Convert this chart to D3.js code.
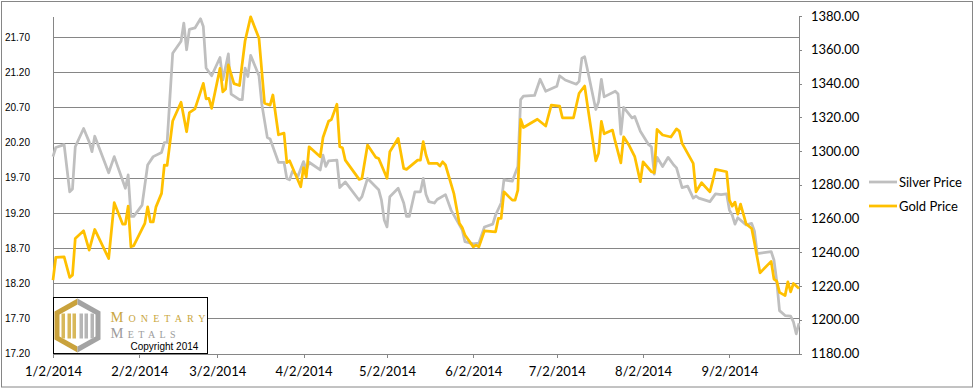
<!DOCTYPE html>
<html>
<head>
<meta charset="utf-8">
<script src="https://cdn.jsdelivr.net/npm/d3@7"></script>
<style>
  body { margin: 0; background: #fff; }
</style>
</head>
<body>
<div id="chart"></div>
<script>
// silver price, left axis
var silverDates = ["1/2/2014","1/3/2014","1/6/2014","1/8/2014","1/9/2014","1/10/2014","1/13/2014","1/15/2014","1/16/2014","1/17/2014",
  "1/22/2014","1/24/2014","1/28/2014","1/29/2014","1/30/2014","1/31/2014","2/3/2014","2/5/2014","2/7/2014","2/10/2014",
  "2/11/2014","2/12/2014","2/14/2014","2/17/2014","2/18/2014","2/19/2014","2/20/2014","2/22/2014","2/24/2014","2/25/2014",
  "2/26/2014","2/28/2014","3/3/2014","3/4/2014","3/6/2014","3/7/2014","3/10/2014","3/11/2014","3/12/2014","3/13/2014",
  "3/14/2014","3/17/2014","3/18/2014","3/20/2014","3/21/2014","3/24/2014","3/26/2014","3/27/2014","3/28/2014","3/29/2014",
  "3/31/2014","4/2/2014","4/3/2014","4/4/2014","4/8/2014","4/9/2014","4/10/2014","4/11/2014","4/14/2014","4/15/2014",
  "4/17/2014","4/22/2014","4/23/2014","4/25/2014","4/29/2014","4/30/2014","5/1/2014","5/2/2014","5/3/2014","5/6/2014",
  "5/8/2014","5/9/2014","5/10/2014","5/12/2014","5/14/2014","5/15/2014","5/16/2014","5/17/2014","5/19/2014","5/20/2014",
  "5/23/2014","5/25/2014","5/28/2014","5/29/2014","5/30/2014","6/2/2014","6/4/2014","6/6/2014","6/9/2014","6/10/2014",
  "6/12/2014","6/13/2014","6/16/2014","6/18/2014","6/19/2014","6/20/2014","6/24/2014","6/26/2014","6/28/2014","7/2/2014",
  "7/3/2014","7/5/2014","7/9/2014","7/10/2014","7/11/2014","7/12/2014","7/13/2014","7/16/2014","7/17/2014","7/18/2014",
  "7/19/2014","7/23/2014","7/24/2014","7/25/2014","7/26/2014","7/29/2014","7/30/2014","8/1/2014","8/4/2014","8/5/2014",
  "8/6/2014","8/7/2014","8/9/2014","8/11/2014","8/13/2014","8/14/2014","8/16/2014","8/18/2014","8/20/2014","8/21/2014",
  "8/22/2014","8/26/2014","8/28/2014","8/30/2014","9/1/2014","9/2/2014","9/3/2014","9/4/2014","9/5/2014","9/8/2014",
  "9/10/2014","9/11/2014","9/12/2014","9/17/2014","9/18/2014","9/19/2014","9/20/2014","9/22/2014","9/24/2014","9/25/2014",
  "9/26/2014","9/27/2014"];
var silverPrices = [20.00,20.13,20.17,19.50,19.54,20.14,20.40,20.21,20.07,20.29,
  19.77,20.00,19.55,19.74,19.15,19.15,19.31,19.88,20.00,20.06,
  20.20,20.20,21.47,21.64,21.90,21.52,21.81,21.83,21.96,21.85,
  21.26,21.15,21.41,21.09,21.46,20.89,20.81,20.81,21.26,21.14,
  21.44,21.15,20.75,20.27,20.25,19.92,19.92,19.69,19.67,19.79,
  19.72,19.93,19.81,19.92,19.81,20.02,19.86,19.94,19.95,19.56,
  19.64,19.38,19.43,19.69,19.53,19.38,19.10,19.00,19.43,19.55,
  19.34,19.15,19.15,19.50,19.50,19.69,19.46,19.36,19.34,19.39,
  19.46,19.24,19.03,18.96,18.79,18.76,18.77,19.00,19.04,19.17,
  19.34,19.67,19.65,19.86,20.81,20.86,20.87,21.10,20.93,21.00,
  21.15,21.09,21.03,21.07,21.40,21.42,21.24,20.67,20.78,21.10,
  20.85,20.93,20.89,20.32,20.70,20.55,20.57,20.36,20.17,20.14,
  19.75,19.99,19.86,19.99,19.88,19.84,19.56,19.58,19.41,19.44,
  19.41,19.36,19.47,19.46,19.47,19.24,19.17,19.04,19.13,19.03,
  19.05,18.94,18.62,18.65,18.53,18.23,17.81,17.74,17.73,17.65,
  17.48,17.63];

// gold price, right axis
var goldDates = ["1/2/2014","1/3/2014","1/6/2014","1/8/2014","1/9/2014","1/10/2014","1/13/2014","1/15/2014","1/17/2014","1/22/2014",
  "1/24/2014","1/27/2014","1/28/2014","1/29/2014","1/30/2014","1/31/2014","2/4/2014","2/5/2014","2/6/2014","2/7/2014",
  "2/8/2014","2/10/2014","2/11/2014","2/12/2014","2/14/2014","2/17/2014","2/19/2014","2/20/2014","2/22/2014","2/25/2014",
  "2/26/2014","2/27/2014","2/28/2014","3/3/2014","3/4/2014","3/5/2014","3/6/2014","3/8/2014","3/10/2014","3/12/2014",
  "3/14/2014","3/17/2014","3/19/2014","3/21/2014","3/22/2014","3/24/2014","3/26/2014","3/27/2014","3/28/2014","4/1/2014",
  "4/2/2014","4/3/2014","4/4/2014","4/8/2014","4/9/2014","4/11/2014","4/12/2014","4/14/2014","4/15/2014","4/16/2014",
  "4/17/2014","4/22/2014","4/23/2014","4/25/2014","4/28/2014","4/29/2014","5/2/2014","5/3/2014","5/6/2014","5/8/2014",
  "5/9/2014","5/13/2014","5/14/2014","5/15/2014","5/16/2014","5/17/2014","5/20/2014","5/21/2014","5/22/2014","5/23/2014",
  "5/26/2014","5/28/2014","5/29/2014","5/30/2014","6/2/2014","6/3/2014","6/4/2014","6/6/2014","6/10/2014","6/11/2014",
  "6/12/2014","6/13/2014","6/16/2014","6/17/2014","6/18/2014","6/19/2014","6/20/2014","6/25/2014","6/28/2014","6/30/2014",
  "7/3/2014","7/4/2014","7/8/2014","7/10/2014","7/12/2014","7/13/2014","7/16/2014","7/17/2014","7/18/2014","7/19/2014",
  "7/22/2014","7/23/2014","7/25/2014","7/26/2014","7/28/2014","7/30/2014","8/1/2014","8/2/2014","8/5/2014","8/6/2014",
  "8/7/2014","8/9/2014","8/12/2014","8/14/2014","8/15/2014","8/16/2014","8/20/2014","8/21/2014","8/23/2014","8/26/2014",
  "8/27/2014","8/28/2014","9/1/2014","9/2/2014","9/3/2014","9/4/2014","9/5/2014","9/6/2014","9/8/2014","9/10/2014",
  "9/11/2014","9/13/2014","9/17/2014","9/18/2014","9/19/2014","9/20/2014","9/22/2014","9/23/2014","9/24/2014","9/25/2014",
  "9/27/2014"];
var goldPrices = [1223.5,1236.9,1237.3,1225.1,1226.4,1248.2,1252.7,1241.3,1253.5,1236.3,
  1269.4,1256.7,1256.7,1267.3,1243.2,1243.9,1257.1,1266.9,1258.0,1258.0,
  1266.9,1274.9,1291.7,1291.5,1317.8,1328.9,1311.4,1322.8,1325.0,1340.1,
  1330.9,1331.2,1325.3,1349.0,1335.1,1336.7,1351.0,1339.9,1338.8,1365.2,
  1379.5,1366.8,1328.3,1327.2,1333.2,1309.6,1310.6,1293.1,1294.2,1278.8,
  1290.2,1284.7,1302.5,1296.6,1308.0,1317.6,1318.6,1327.7,1302.5,1301.9,
  1294.6,1283.2,1283.8,1303.5,1296.2,1295.6,1283.8,1299.5,1307.5,1289.7,
  1289.1,1294.6,1294.6,1305.5,1297.6,1292.7,1292.7,1291.1,1293.6,1291.7,
  1274.9,1257.1,1254.7,1250.2,1243.2,1244.2,1243.2,1252.7,1252.1,1260.1,
  1260.1,1275.8,1270.9,1270.9,1276.8,1318.8,1313.9,1318.8,1314.8,1327.2,
  1326.6,1319.7,1319.7,1334.2,1338.5,1327.2,1294.2,1298.6,1317.6,1310.2,
  1312.4,1305.5,1293.0,1308.4,1303.2,1296.6,1281.8,1293.6,1287.7,1287.2,
  1312.8,1309.5,1308.3,1313.1,1311.8,1304.5,1292.7,1275.8,1281.2,1275.8,
  1282.2,1289.1,1287.7,1270.9,1267.3,1269.7,1262.6,1268.5,1256.8,1254.1,
  1245.7,1227.8,1234.6,1224.1,1222.9,1216.2,1214.3,1222.5,1216.5,1221.5,
  1218.5];

var silverTicks = [17.2, 17.7, 18.2, 18.7, 19.2, 19.7, 20.2, 20.7, 21.2, 21.7];
var goldTicks = [1180, 1200, 1220, 1240, 1260, 1280, 1300, 1320, 1340, 1360, 1380];
var dateTicks = ["1/2/2014","2/2/2014","3/2/2014","4/2/2014","5/2/2014","6/2/2014","7/2/2014","8/2/2014","9/2/2014"];
var seriesNames = ["Silver Price", "Gold Price"];
var seriesColors = ["#bfbfbf", "#ffc000"];

var svgWidth = 974;
var svgHeight = 389;

var margin = { top: 16, right: 175, bottom: 35.5, left: 53 };
var width = svgWidth - margin.left - margin.right;
var height = svgHeight - margin.top - margin.bottom;

var parseDate = d3.timeParse("%m/%d/%Y");
var fmtDate = d => (d.getMonth() + 1) + "/" + d.getDate() + "/" + d.getFullYear();

var svg = d3.select("#chart")
  .append("svg")
  .attr("width", svgWidth)
  .attr("height", svgHeight)
  .style("display", "block");

// chart frame
svg.append("rect")
  .attr("x", 1.5).attr("y", 1.5)
  .attr("width", svgWidth - 3).attr("height", svgHeight - 3.5)
  .attr("fill", "#fff")
  .attr("stroke", "#868686");

var chartGroup = svg.append("g")
  .attr("transform", `translate(${margin.left}, ${margin.top})`);

var xScale = d3.scaleTime()
  .domain([parseDate("1/2/2014"), parseDate("9/27/2014")])
  .range([0, width]);

var yLeft = d3.scaleLinear().domain([17.2, 22.0]).range([height, 0]);
var yRight = d3.scaleLinear().domain([1180, 1380]).range([height, 0]);

// gridlines from the silver axis
var grid = chartGroup.append("g")
  .call(d3.axisLeft(yLeft).tickValues(silverTicks.slice(1)).tickSize(-width).tickFormat(""));
grid.select(".domain").remove();
grid.selectAll("line").attr("stroke", "#868686").attr("shape-rendering", "crispEdges");

// left axis
var leftAxis = chartGroup.append("g")
  .call(d3.axisLeft(yLeft).tickValues(silverTicks).tickSize(0).tickPadding(23).tickFormat(d3.format(".2f")));
leftAxis.select(".domain").attr("stroke", "#868686").attr("shape-rendering", "crispEdges");
leftAxis.selectAll("text")
  .attr("font-family", "Liberation Sans, Arial, sans-serif")
  .attr("font-size", "10px")
  .attr("fill", "#000");

// right axis
var rightAxis = chartGroup.append("g")
  .attr("transform", `translate(${width}, 0)`)
  .call(d3.axisRight(yRight).tickValues(goldTicks).tickSizeInner(3).tickSizeOuter(0).tickPadding(9).tickFormat(d3.format(".2f")));
rightAxis.select(".domain").attr("stroke", "#868686").attr("shape-rendering", "crispEdges");
rightAxis.selectAll("line").attr("stroke", "#868686").attr("shape-rendering", "crispEdges");
rightAxis.selectAll("text")
  .attr("font-family", "Lato, sans-serif")
  .attr("font-size", "13px")
  .attr("fill", "#000");

// bottom axis
var bottomAxis = chartGroup.append("g")
  .attr("transform", `translate(0, ${height})`)
  .call(d3.axisBottom(xScale).tickValues(dateTicks.map(parseDate)).tickSizeInner(4).tickSizeOuter(0).tickPadding(9).tickFormat(fmtDate));
bottomAxis.select(".domain").attr("stroke", "#868686").attr("shape-rendering", "crispEdges");
bottomAxis.selectAll("line").attr("stroke", "#868686").attr("shape-rendering", "crispEdges");
bottomAxis.selectAll("text")
  .attr("font-family", "Lato, sans-serif")
  .attr("font-size", "13px")
  .attr("fill", "#000");

// lines
var silverData = silverDates.map((d, i) => ({ date: parseDate(d), value: silverPrices[i] }));
var goldData = goldDates.map((d, i) => ({ date: parseDate(d), value: goldPrices[i] }));

var silverLine = d3.line().x(d => xScale(d.date)).y(d => yLeft(d.value));
var goldLine = d3.line().x(d => xScale(d.date)).y(d => yRight(d.value));

chartGroup.append("path")
  .datum(silverData)
  .attr("d", silverLine)
  .attr("fill", "none")
  .attr("stroke", seriesColors[0])
  .attr("stroke-width", 2.75)
  .attr("stroke-linejoin", "round");

chartGroup.append("path")
  .datum(goldData)
  .attr("d", goldLine)
  .attr("fill", "none")
  .attr("stroke", seriesColors[1])
  .attr("stroke-width", 2.75)
  .attr("stroke-linejoin", "round");

// legend
var legend = svg.append("g").attr("transform", "translate(869, 182)");
seriesNames.forEach(function(name, i) {
  var row = legend.append("g").attr("transform", `translate(0, ${i * 24})`);
  row.append("line")
    .attr("x1", 0).attr("x2", 28)
    .attr("stroke", seriesColors[i])
    .attr("stroke-width", 2.75);
  row.append("text")
    .attr("x", 30)
    .attr("dy", "0.35em")
    .attr("font-family", "Lato, sans-serif")
    .attr("font-size", "13px")
    .attr("fill", "#000")
    .text(name);
});

// logo box
var logo = svg.append("g").attr("transform", "translate(53.5, 297.5)");
logo.append("rect")
  .attr("width", 154).attr("height", 56)
  .attr("fill", "#fff")
  .attr("stroke", "#000");

var hx = 24;
logo.append("polygon")
  .attr("points", [[hx, 1], [1, 14], [1, 42], [hx, 55]].join(" "))
  .attr("fill", "#c9a23c");
logo.append("polygon")
  .attr("points", [[hx, 1], [47, 14], [47, 42], [hx, 55]].join(" "))
  .attr("fill", "#a3a3a3");
logo.append("polygon")
  .attr("points", [[hx, 7], [6, 17], [6, 39], [hx, 49], [42, 39], [42, 17]].join(" "))
  .attr("fill", "#fff");
[[8, "#d8b85a"], [14, "#d8b85a"], [19, "#d8b85a"], [26, "#b5b5b5"], [31, "#b5b5b5"], [37, "#b5b5b5"]].forEach(function(b) {
  logo.append("rect")
    .attr("x", b[0]).attr("y", 16)
    .attr("width", 3.5).attr("height", 25)
    .attr("fill", b[1]);
});

logo.append("text")
  .attr("x", 57).attr("y", 24)
  .attr("font-family", "Liberation Serif, serif")
  .attr("font-size", "14.5px")
  .attr("font-variant", "small-caps")
  .attr("textLength", 95)
  .attr("lengthAdjust", "spacing")
  .attr("fill", "#c9a640")
  .text("Monetary");
logo.append("text")
  .attr("x", 57).attr("y", 40)
  .attr("font-family", "Liberation Serif, serif")
  .attr("font-size", "14.5px")
  .attr("font-variant", "small-caps")
  .attr("textLength", 65)
  .attr("lengthAdjust", "spacing")
  .attr("fill", "#9c9c9c")
  .text("Metals");
logo.append("text")
  .attr("x", 77).attr("y", 52.5)
  .attr("font-family", "Liberation Sans, Arial, sans-serif")
  .attr("font-size", "10px")
  .attr("fill", "#000")
  .text("Copyright 2014");
</script>
</body>
</html>
